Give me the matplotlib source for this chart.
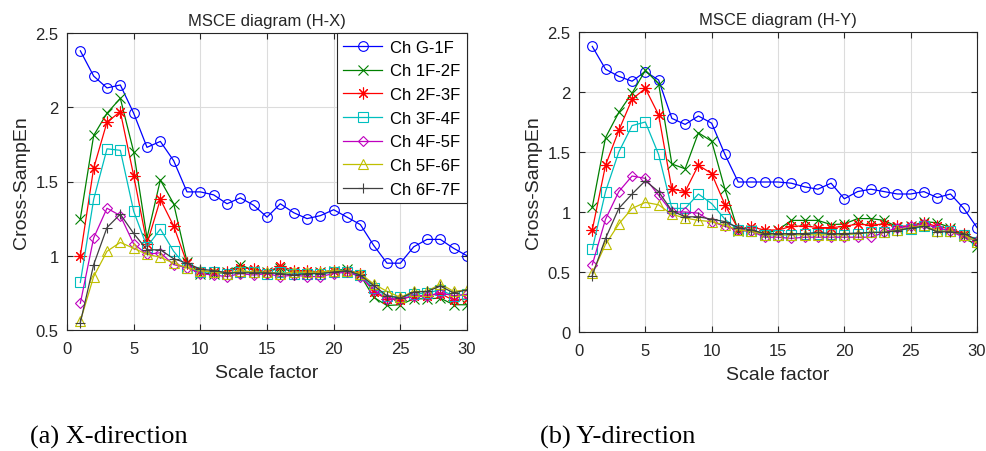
import matplotlib
matplotlib.use("Agg")
import matplotlib.pyplot as plt
import numpy as np

plt.rcParams['font.family'] = ['Liberation Sans', 'DejaVu Sans']

scale = np.arange(1, 31)

labels = ['Ch G-1F', 'Ch 1F-2F', 'Ch 2F-3F', 'Ch 3F-4F', 'Ch 4F-5F', 'Ch 5F-6F', 'Ch 6F-7F']
colors = ['#0000ff', '#008000', '#ff0000', '#00bfbf', '#bf00bf', '#bfbf00', '#404040']
markers = ['o', 'x', (8, 2, 0), 's', 'D', '^', '+']
msizes = [7, 6.5, 8.5, 7, 5.5, 7, 7]

# H-X direction
hx_g_1f = [2.38, 2.21, 2.13, 2.15, 1.96, 1.73, 1.77, 1.64, 1.43, 1.43, 1.41, 1.35, 1.39, 1.34, 1.26,
           1.35, 1.29, 1.25, 1.27, 1.31, 1.26, 1.21, 1.07, 0.95, 0.95, 1.06, 1.11, 1.11, 1.05, 1.00]
hx_1f_2f = [1.25, 1.81, 1.96, 2.06, 1.70, 1.12, 1.51, 1.35, 0.96, 0.88, 0.88, 0.89, 0.94, 0.90, 0.89,
            0.92, 0.89, 0.88, 0.89, 0.90, 0.91, 0.87, 0.72, 0.665, 0.67, 0.71, 0.71, 0.715, 0.67, 0.67]
hx_2f_3f = [1.00, 1.59, 1.90, 1.97, 1.54, 1.08, 1.38, 1.20, 0.95, 0.90, 0.89, 0.89, 0.92, 0.91, 0.89,
            0.93, 0.90, 0.90, 0.89, 0.90, 0.90, 0.88, 0.755, 0.71, 0.705, 0.73, 0.73, 0.745, 0.70, 0.71]
hx_3f_4f = [0.82, 1.38, 1.72, 1.71, 1.30, 1.06, 1.18, 1.03, 0.92, 0.89, 0.89, 0.88, 0.89, 0.89, 0.88,
            0.89, 0.88, 0.88, 0.88, 0.89, 0.89, 0.87, 0.78, 0.73, 0.72, 0.74, 0.75, 0.77, 0.73, 0.74]
hx_4f_5f = [0.68, 1.12, 1.32, 1.27, 1.08, 1.01, 1.02, 0.94, 0.92, 0.88, 0.87, 0.86, 0.88, 0.87, 0.88,
            0.86, 0.87, 0.86, 0.86, 0.88, 0.89, 0.86, 0.77, 0.71, 0.71, 0.73, 0.73, 0.75, 0.73, 0.74]
hx_5f_6f = [0.56, 0.86, 1.03, 1.09, 1.05, 1.01, 0.99, 0.95, 0.92, 0.90, 0.89, 0.88, 0.90, 0.89, 0.89,
            0.88, 0.89, 0.89, 0.89, 0.90, 0.90, 0.88, 0.81, 0.76, 0.72, 0.76, 0.76, 0.81, 0.76, 0.77]
hx_6f_7f = [0.55, 0.94, 1.19, 1.28, 1.15, 1.04, 1.04, 0.98, 0.95, 0.91, 0.90, 0.885, 0.885, 0.885, 0.885,
            0.88, 0.87, 0.88, 0.88, 0.89, 0.90, 0.87, 0.80, 0.73, 0.715, 0.755, 0.76, 0.795, 0.75, 0.77]

# H-Y direction
hy_g_1f = [2.38, 2.19, 2.13, 2.09, 2.17, 2.10, 1.78, 1.73, 1.80, 1.74, 1.48, 1.25, 1.25, 1.25, 1.25,
           1.24, 1.21, 1.19, 1.24, 1.11, 1.17, 1.19, 1.17, 1.15, 1.15, 1.17, 1.12, 1.15, 1.03, 0.87]
hy_1f_2f = [1.04, 1.62, 1.83, 1.99, 2.18, 2.07, 1.40, 1.36, 1.66, 1.59, 1.19, 0.84, 0.85, 0.82, 0.85,
            0.93, 0.93, 0.93, 0.895, 0.90, 0.945, 0.945, 0.93, 0.875, 0.88, 0.92, 0.91, 0.87, 0.80, 0.71]
hy_2f_3f = [0.85, 1.39, 1.68, 1.94, 2.03, 1.81, 1.19, 1.17, 1.39, 1.32, 1.06, 0.86, 0.875, 0.85, 0.85,
            0.88, 0.885, 0.87, 0.87, 0.88, 0.90, 0.89, 0.90, 0.88, 0.885, 0.91, 0.88, 0.86, 0.82, 0.76]
hy_3f_4f = [0.69, 1.17, 1.50, 1.72, 1.75, 1.48, 1.03, 1.03, 1.15, 1.07, 0.94, 0.85, 0.84, 0.81, 0.81,
            0.81, 0.82, 0.82, 0.82, 0.81, 0.82, 0.83, 0.83, 0.85, 0.86, 0.88, 0.84, 0.84, 0.81, 0.75]
hy_4f_5f = [0.56, 0.94, 1.17, 1.30, 1.28, 1.14, 1.00, 1.00, 0.99, 0.92, 0.88, 0.85, 0.84, 0.79, 0.79,
            0.78, 0.79, 0.79, 0.79, 0.79, 0.79, 0.79, 0.83, 0.87, 0.88, 0.90, 0.87, 0.84, 0.79, 0.76]
hy_5f_6f = [0.49, 0.73, 0.90, 1.03, 1.08, 1.06, 0.98, 0.95, 0.93, 0.92, 0.89, 0.85, 0.84, 0.81, 0.81,
            0.81, 0.81, 0.81, 0.81, 0.81, 0.82, 0.83, 0.83, 0.85, 0.87, 0.89, 0.84, 0.84, 0.81, 0.75]
hy_6f_7f = [0.47, 0.78, 1.03, 1.15, 1.26, 1.17, 1.01, 0.96, 0.96, 0.94, 0.92, 0.87, 0.85, 0.82, 0.82,
            0.82, 0.82, 0.83, 0.82, 0.82, 0.825, 0.83, 0.83, 0.845, 0.867, 0.88, 0.835, 0.835, 0.82, 0.77]

hx = [hx_g_1f, hx_1f_2f, hx_2f_3f, hx_3f_4f, hx_4f_5f, hx_5f_6f, hx_6f_7f]
hy = [hy_g_1f, hy_1f_2f, hy_2f_3f, hy_3f_4f, hy_4f_5f, hy_5f_6f, hy_6f_7f]

fig = plt.figure(figsize=(9.87, 4.52), dpi=100)
ax1 = fig.add_axes([67 / 987, 121 / 452, 400 / 987, 297 / 452])
ax2 = fig.add_axes([579 / 987, 119 / 452, 398 / 987, 300 / 452])


def draw(ax, series, title, ylim, yticks, legend=False):
    for vals, lab, col, mk, ms in zip(series, labels, colors, markers, msizes):
        ax.plot(scale, vals, color=col, marker=mk, markersize=ms, markerfacecolor='none',
                markeredgecolor=col, linewidth=0.9, markeredgewidth=0.8, label=lab)
    ax.set_xlim(0, 30)
    ax.set_ylim(*ylim)
    ax.set_xticks(range(0, 31, 5))
    ax.set_yticks(yticks)
    ax.set_yticklabels([('%g' % t) for t in yticks])
    ax.grid(True, color='#dcdcdc', linewidth=0.8)
    ax.set_axisbelow(True)
    ax.tick_params(direction='in', top=True, right=True, labelsize=12, length=4,
                   color='#262626', labelcolor='#262626')
    ax.tick_params(axis='x', pad=8)
    ax.tick_params(axis='y', pad=6)
    for s in ax.spines.values():
        s.set_color('#262626')
        s.set_linewidth(0.8)
    ax.set_title(title, fontsize=12, color='#262626', pad=6)
    ax.set_xlabel('Scale factor', fontsize=14, color='#262626', labelpad=6)
    ax.set_ylabel('Cross-SampEn', fontsize=14, color='#262626', labelpad=4)
    if legend:
        leg = ax.legend(loc='upper right', borderaxespad=0, fontsize=12, fancybox=False,
                        edgecolor='#262626', framealpha=1, handlelength=2.3,
                        labelspacing=0.52, borderpad=0.4, handletextpad=0.5)
        leg.get_frame().set_linewidth(0.8)


draw(ax1, hx, 'MSCE diagram (H-X)', (0.5, 2.5), [0.5, 1, 1.5, 2, 2.5], legend=True)
draw(ax2, hy, 'MSCE diagram (H-Y)', (0, 2.5), [0, 0.5, 1, 1.5, 2, 2.5])

fig.text(30 / 987, 1 - 437 / 452, '(a) X-direction', family=['Liberation Serif'],
         fontsize=19, va='center', ha='left')
fig.text(540 / 987, 1 - 437 / 452, '(b) Y-direction', family=['Liberation Serif'],
         fontsize=19, va='center', ha='left')

fig.savefig('out.png', dpi=100, facecolor='white')
